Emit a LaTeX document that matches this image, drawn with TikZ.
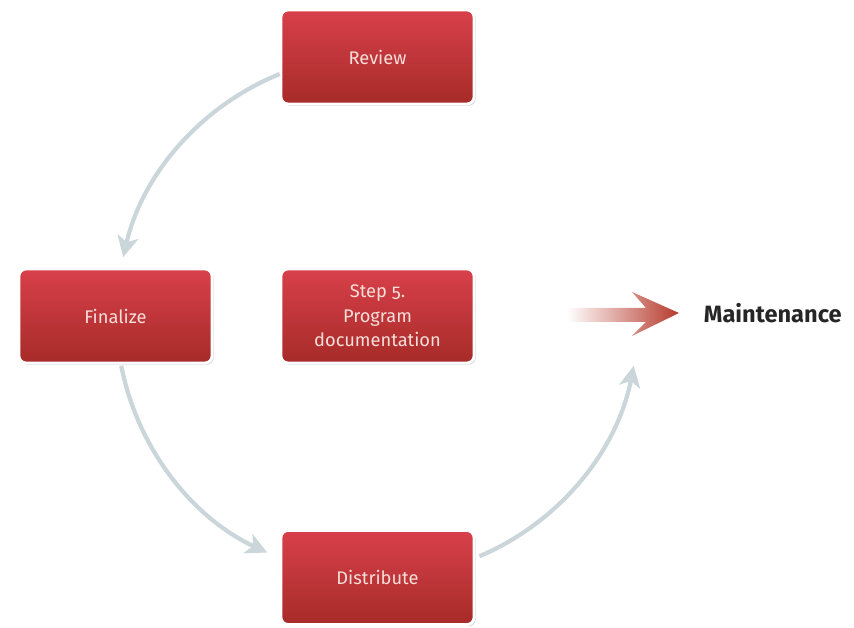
\documentclass[tikz,border=0pt]{standalone}
\usepackage{fontspec}
\setmainfont{Fira Sans}
\usetikzlibrary{arrows.meta,shadows}
\definecolor{boxtop}{HTML}{D8404A}
\definecolor{boxbot}{HTML}{A62B28}
\definecolor{boxtext}{HTML}{F6DEDA}
\definecolor{cycgrey}{HTML}{CBD6DB}
\definecolor{mainred}{HTML}{B63A2C}
\tikzset{
	stepbox/.style={rectangle,rounded corners=5pt,draw=white,line width=2pt,
		top color=boxtop,bottom color=boxbot,text=boxtext,
		minimum width=193*0.025cm,minimum height=94*0.025cm,align=center,
		font=\fontsize{13}{17.4}\selectfont,
		drop shadow={shadow xshift=1.2pt,shadow yshift=-1.2pt,opacity=0.35}},
	cycarrow/.style={draw=cycgrey,line width=3pt,-{Stealth[length=15pt,width=15pt,inset=4pt]}}
}
\begin{document}
\begin{tikzpicture}[x=0.025cm,y=0.025cm]
	\useasboundingbox (0,0) rectangle (854,628);
	\node[stepbox] (review) at (377.5,571) {Review};
	\node[stepbox] (finalize) at (115.5,312) {Finalize};
	\node[stepbox] (doc) at (377.5,312) {Step {\addfontfeatures{Numbers=OldStyle}5}.\\Program\\documentation};
	\node[stepbox] (distribute) at (377.5,50.5) {Distribute};
	\coordinate (r1) at ([shift={(112:261)}]doc.center);
	\coordinate (r2) at ([shift={(191:261)}]doc.center);
	\coordinate (r3) at ([shift={(293:261)}]doc.center);
	\draw[cycarrow] (r1) arc (112:167:261);
	\draw[cycarrow] (r2) arc (191:245:261);
	\draw[cycarrow] (r3) arc (293:349:261);
	\node[font=\fontsize{16.8}{20}\selectfont\bfseries,text=black!85,anchor=west] (maint) at (699,315) {Maintenance};
	\coordinate (tip) at ([xshift=-0.5cm]maint.west);
	\shade[left color=white,right color=mainred]
		(567,306) -- (646,306) -- (632,292) -- (tip) -- (632,336) -- (646,320) -- (567,320) -- cycle;
\end{tikzpicture}
\end{document}
